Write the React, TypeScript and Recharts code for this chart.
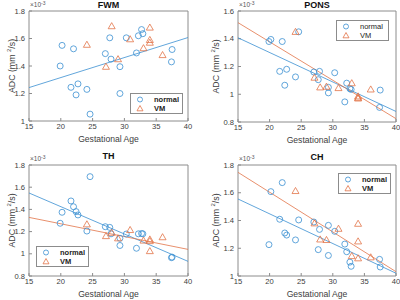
import { ScatterChart, Scatter, XAxis, YAxis, Legend } from "recharts";

// gestational ages (weeks), shared by every panel
const normalAge = [19.9, 20.2, 21.6, 22.0, 22.4, 22.7, 24.1, 24.6, 27.0, 27.7, 27.9, 29.3, 29.3, 30.3, 31.9, 32.2, 32.7, 32.9, 37.4, 37.5];
const vmAge = [24.1, 27.1, 28.0, 29.0, 30.9, 33.0, 34.0, 34.0, 34.0, 36.0];
const fitAge = [15, 40];

// ADC values, x10^-3 mm^2/s
const fwmNormal = [1.40, 1.55, 1.245, 1.525, 1.19, 1.27, 1.23, 1.05, 1.49, 1.605, 1.45, 1.395, 1.20, 1.605, 1.495, 1.62, 1.665, 1.635, 1.43, 1.52];
const fwmVm = [1.555, 1.395, 1.69, 1.45, 1.595, 1.53, 1.68, 1.59, 1.57, 1.48];
const fwmFitNormal = [1.243, 1.607];

const ponsNormal = [1.38, 1.395, 1.165, 1.38, 1.065, 1.18, 1.125, 1.45, 1.16, 1.105, 1.165, 1.01, 1.05, 1.155, 0.945, 1.08, 1.04, 1.035, 0.905, 1.03];
const ponsVm = [1.45, 1.12, 1.05, 1.055, 1.045, 1.08, 0.985, 0.975, 0.97, 1.035];
const ponsFitNormal = [1.407, 0.876];
const ponsFitVm = [1.516, 0.824];

const thNormal = [1.275, 1.374, 1.476, 1.424, 1.38, 1.35, 1.205, 1.695, 1.244, 1.238, 1.18, 1.14, 1.075, 1.178, 1.05, 1.18, 1.183, 1.18, 0.965, 0.97];
const thVm = [1.266, 1.16, 1.19, 1.14, 1.215, 1.12, 1.13, 1.025, 1.115, 1.15];
const thFitNormal = [1.548, 0.932];
const thFitVm = [1.328, 1.04];

const chNormal = [1.226, 1.608, 1.409, 1.673, 1.31, 1.295, 1.26, 1.404, 1.389, 1.19, 1.336, 1.365, 1.148, 1.322, 1.23, 1.175, 1.10, 1.07, 1.12, 1.065];
const chVm = [1.613, 1.38, 1.264, 1.26, 1.341, 1.144, 1.377, 1.25, 1.128, 1.135];
const chFitNormal = [1.555, 1.02];
const chFitVm = [1.747, 1.031];

const xTicks = [15, 20, 25, 30, 35, 40];

const BLUE = "#3a8fd2";
const ORANGE = "#e27448";
const AXIS = "#8c8c8c";
const TEXT = "#404040";
const FONT = '"Liberation Sans", Arial, Helvetica, sans-serif';

const toPoints = (xs: number[], ys: number[]) => xs.map((x, i) => ({ x, y: ys[i] }));

const CircleShape = (props: any) => {
  const { cx, cy } = props;
  if (cx == null || cy == null) return <g />;
  return <circle cx={cx} cy={cy} r={3} fill="none" stroke={BLUE} strokeWidth={0.8} />;
};

const TriangleShape = (props: any) => {
  const { cx, cy } = props;
  if (cx == null || cy == null) return <g />;
  return (
    <path
      d={`M${cx},${cy - 3.5}L${cx + 3.5},${cy + 2.6}L${cx - 3.5},${cy + 2.6}Z`}
      fill="none"
      stroke={ORANGE}
      strokeWidth={0.8}
    />
  );
};

const NoShape = () => <g />;

interface PanelProps {
  title: string;
  titleDy: number;
  normal: number[];
  vm: number[];
  fitNormal?: number[];
  fitVm?: number[];
  yDomain: [number, number];
  yTicks: number[];
  yWidth: number;
  yLabelX: number;
  margin: { top: number; right: number; bottom: number; left: number };
  legendPos: { left: number; top: number };
  boldLegend: boolean;
}

function Panel(p: PanelProps) {
  const renderLegend = () => (
    <div
      style={{
        width: 53,
        height: 21,
        boxSizing: "border-box",
        border: `1px solid ${AXIS}`,
        background: "#fff",
        fontFamily: FONT,
        fontSize: 7.5,
        fontWeight: p.boldLegend ? 700 : 400,
        color: "#222",
        padding: "1px 0 0 4px",
        lineHeight: "9px",
      }}
    >
      <div style={{ display: "flex", alignItems: "center", height: 9 }}>
        <svg width={10} height={9}>
          <circle cx={5} cy={4.5} r={2.5} fill="none" stroke={BLUE} strokeWidth={0.8} />
        </svg>
        <span style={{ marginLeft: 9 }}>normal</span>
      </div>
      <div style={{ display: "flex", alignItems: "center", height: 9 }}>
        <svg width={10} height={9}>
          <path d="M5,1.5L8,6.8L2,6.8Z" fill="none" stroke={ORANGE} strokeWidth={0.8} />
        </svg>
        <span style={{ marginLeft: 9 }}>VM</span>
      </div>
    </div>
  );

  const renderXLabel = (props: any) => {
    const vb = props.viewBox;
    return (
      <text x={vb.x + vb.width / 2} y={vb.y + 20.5} textAnchor="middle" fontSize={8.6} fill={TEXT} fontFamily={FONT}>
        Gestational Age
      </text>
    );
  };

  const renderYLabel = (props: any) => {
    const vb = props.viewBox;
    const cx = vb.x + p.yLabelX;
    const cy = vb.y + vb.height / 2;
    return (
      <text
        x={cx}
        y={cy}
        transform={`rotate(-90 ${cx} ${cy})`}
        textAnchor="middle"
        dominantBaseline="central"
        fontSize={8.8}
        fill={TEXT}
        fontFamily={FONT}
      >
        {"ADC (mm  "}
        <tspan dy={-3.5} fontSize={6}>2</tspan>
        <tspan dy={3.5}>/s)</tspan>
      </text>
    );
  };

  const renderTopLabel = (props: any) => {
    const vb = props.viewBox;
    return (
      <g fontFamily={FONT}>
        <text x={vb.x + vb.width / 2} y={vb.y + p.titleDy} textAnchor="middle" fontSize={9} fontWeight={700} fill="#111">
          {p.title}
        </text>
        <text x={vb.x + 1} y={vb.y - 3} fontSize={6.5} fill="#555">
          {"\u00d710"}
          <tspan dy={-2.5} fontSize={5}>-3</tspan>
        </text>
      </g>
    );
  };

  const fmt = (v: number) => String(+v.toFixed(1));

  return (
    <ScatterChart width={200} height={150} margin={p.margin}>
      <XAxis
        type="number"
        dataKey="x"
        domain={[15, 40]}
        ticks={xTicks}
        interval={0}
        allowDataOverflow
        height={20}
        stroke={AXIS}
        tickSize={-3}
        tickMargin={6}
        tick={{ fontSize: 7.6, fill: TEXT, fontFamily: FONT }}
        label={renderXLabel}
      />
      <YAxis
        type="number"
        dataKey="y"
        domain={p.yDomain}
        ticks={p.yTicks}
        interval={0}
        allowDataOverflow
        width={p.yWidth}
        stroke={AXIS}
        tickSize={-3}
        tickMargin={7}
        tickFormatter={fmt}
        tick={{ fontSize: 7.6, fill: TEXT, fontFamily: FONT }}
        label={renderYLabel}
      />
      <XAxis
        xAxisId="top"
        orientation="top"
        type="number"
        dataKey="x"
        domain={[15, 40]}
        ticks={xTicks}
        interval={0}
        allowDataOverflow
        height={1}
        stroke={AXIS}
        tickSize={-3}
        tick={false}
        label={renderTopLabel}
      />
      <YAxis
        yAxisId="right"
        orientation="right"
        type="number"
        dataKey="y"
        domain={p.yDomain}
        ticks={p.yTicks}
        interval={0}
        allowDataOverflow
        width={1}
        stroke={AXIS}
        tickSize={-3}
        tick={false}
      />
      {/* invisible series that carries the mirrored box axes */}
      <Scatter
        xAxisId="top"
        yAxisId="right"
        data={toPoints(fitAge, p.yDomain)}
        shape={NoShape}
        isAnimationActive={false}
        legendType="none"
      />
      {p.fitNormal && (
        <Scatter
          data={toPoints(fitAge, p.fitNormal)}
          line={{ stroke: BLUE, strokeWidth: 0.8 }}
          shape={NoShape}
          isAnimationActive={false}
        />
      )}
      {p.fitVm && (
        <Scatter
          data={toPoints(fitAge, p.fitVm)}
          line={{ stroke: ORANGE, strokeWidth: 0.8 }}
          shape={NoShape}
          isAnimationActive={false}
        />
      )}
      <Scatter name="normal" data={toPoints(normalAge, p.normal)} shape={CircleShape} isAnimationActive={false} />
      <Scatter name="VM" data={toPoints(vmAge, p.vm)} shape={TriangleShape} isAnimationActive={false} />
      <Legend
        layout="vertical"
        align="center"
        verticalAlign="middle"
        content={renderLegend}
        wrapperStyle={{ left: p.legendPos.left, top: p.legendPos.top, width: 53, height: 21 }}
      />
    </ScatterChart>
  );
}

export default function App() {
  return (
    <div style={{ position: "absolute", left: 0, top: 0, width: 400, height: 300, background: "#fff" }}>
      <div style={{ position: "absolute", left: 0, top: 0 }}>
        <Panel
          title="FWM"
          titleDy={-2.5}
          normal={fwmNormal}
          vm={fwmVm}
          fitNormal={fwmFitNormal}
          yDomain={[1, 1.8]}
          yTicks={[1, 1.2, 1.4, 1.6, 1.8]}
          yWidth={29}
          yLabelX={12}
          margin={{ top: 10, right: 11, bottom: 9, left: 0 }}
          legendPos={{ left: 130, top: 93 }}
          boldLegend
        />
      </div>
      <div style={{ position: "absolute", left: 200, top: 0 }}>
        <Panel
          title="PONS"
          titleDy={-2.5}
          normal={ponsNormal}
          vm={ponsVm}
          fitNormal={ponsFitNormal}
          fitVm={ponsFitVm}
          yDomain={[0.8, 1.6]}
          yTicks={[0.8, 1, 1.2, 1.4, 1.6]}
          yWidth={38}
          yLabelX={16}
          margin={{ top: 10, right: 3, bottom: 8, left: 0 }}
          legendPos={{ left: 136, top: 20 }}
          boldLegend={false}
        />
      </div>
      <div style={{ position: "absolute", left: 0, top: 150 }}>
        <Panel
          title="TH"
          titleDy={-5}
          normal={thNormal}
          vm={thVm}
          fitNormal={thFitNormal}
          fitVm={thFitVm}
          yDomain={[0.8, 1.8]}
          yTicks={[0.8, 1, 1.2, 1.4, 1.6, 1.8]}
          yWidth={29}
          yLabelX={12}
          margin={{ top: 14, right: 11, bottom: 4, left: 0 }}
          legendPos={{ left: 36, top: 96 }}
          boldLegend
        />
      </div>
      <div style={{ position: "absolute", left: 200, top: 150 }}>
        <Panel
          title="CH"
          titleDy={-4}
          normal={chNormal}
          vm={chVm}
          fitNormal={chFitNormal}
          fitVm={chFitVm}
          yDomain={[1, 1.8]}
          yTicks={[1, 1.2, 1.4, 1.6, 1.8]}
          yWidth={38}
          yLabelX={16}
          margin={{ top: 14, right: 3, bottom: 4, left: 0 }}
          legendPos={{ left: 138, top: 23 }}
          boldLegend
        />
      </div>
    </div>
  );
}
